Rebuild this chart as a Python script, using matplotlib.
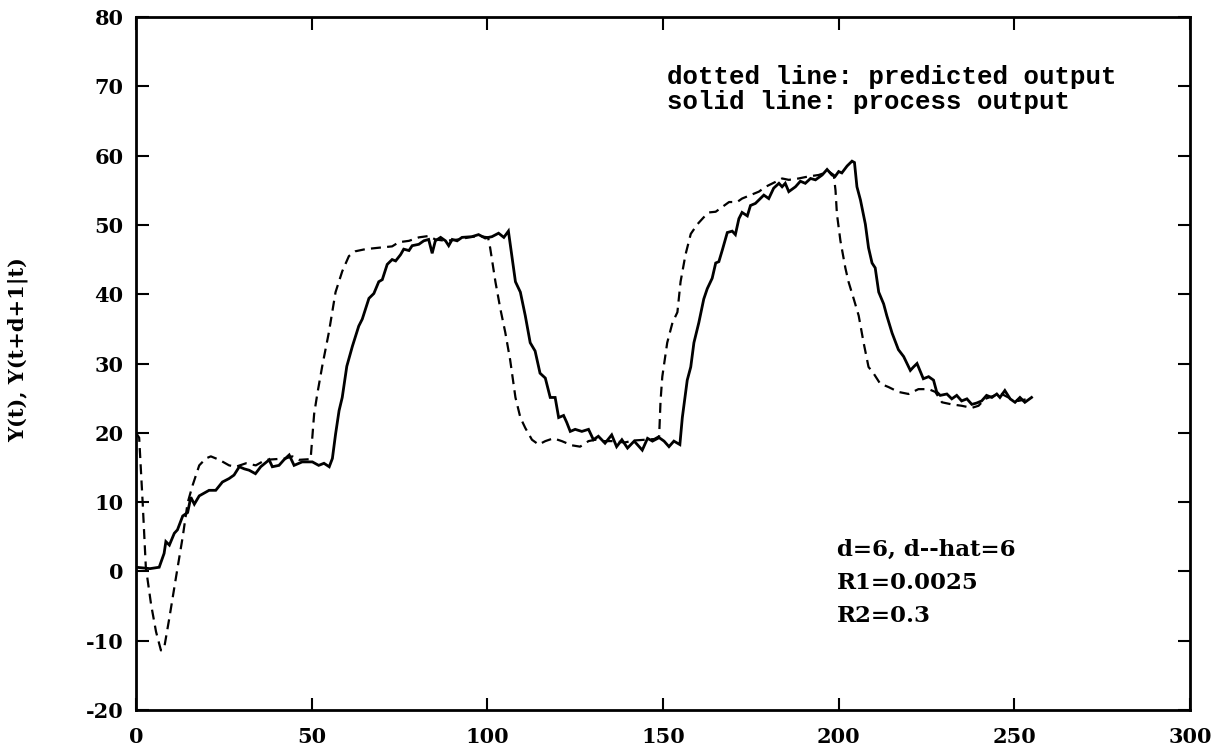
import matplotlib
matplotlib.use("Agg")
import matplotlib.pyplot as plt

# Process output y(t) (solid)
t_process = [
    0, 2, 4, 6.6, 8, 8.5, 9.5, 10.9, 11.8, 13.3, 14.7, 15.6, 16.6, 18, 20.8, 22.7,
    24.6, 26.5, 27.9, 29.4, 30.8, 32.2, 34, 35.5, 37.9, 38.8, 40.7, 42.1, 43.6, 45,
    47.3, 50.2, 52, 53.5, 55, 55.9, 56.8, 57.8, 58.7, 60, 61.6, 63.4, 64.4, 66.3,
    67.7, 69.1, 70.1, 71.5, 72.9, 73.9, 75.3, 76.2, 77.7, 78.6, 80.5, 81.9, 83.3,
    84.3, 85.2, 86.7, 88.1, 89, 90, 91.4, 92.8, 95.6, 97.5, 99.4, 101.3, 103.2,
    104.7, 106, 108, 109.4, 110.8, 112.2, 113.6, 115, 116.5, 117.9, 119.3, 120.3,
    121.7, 122.6, 123.6, 125, 126.9, 128.8, 130.2, 131.6, 133.5, 135.4, 136.8,
    138.3, 139.9, 141.8, 144.1, 145.6, 147, 148.9, 150.3, 151.7, 153.1, 154.8,
    155.5, 156.9, 157.9, 158.8, 160.2, 161.6, 162.6, 164, 165, 165.9, 166.9, 168.3,
    169.7, 170.6, 171.6, 172.5, 174, 174.9, 176.3, 177.3, 178.7, 180.1, 181.5, 183,
    183.9, 184.8, 185.8, 187.7, 189.1, 190.5, 192, 193.4, 195.3, 196.7, 198.1, 199,
    200, 200.9, 202.4, 203.8, 204.5, 205.2, 206.2, 207.6, 208.5, 209.5, 210.4,
    211.4, 212.8, 213.7, 215.2, 217, 218.5, 220.4, 221.3, 222.3, 223.7, 224.1,
    225.6, 227, 227.9, 228.9, 230.8, 232.2, 233.6, 235, 236.5, 237.9, 239.3, 240.7,
    242.1, 243.6, 245, 245.9, 247.3, 248.8, 250.2, 251.6, 253, 254.9,
]
y_process = [
    0.6, 0.5, 0.4, 0.6, 2.6, 4.3, 3.8, 5.5, 6.0, 8.0, 8.5, 10.7, 9.7, 10.9, 11.7, 11.7,
    12.9, 13.4, 13.9, 15.1, 14.8, 14.6, 14.1, 15.1, 16.1, 15.1, 15.3, 16.1, 16.8, 15.3,
    15.8, 15.8, 15.3, 15.6, 15.1, 16.3, 19.8, 23.2, 25.1, 29.6, 32.5, 35.4, 36.4, 39.4,
    40.1, 41.8, 42.1, 44.3, 45.0, 44.8, 45.7, 46.5, 46.3, 47.0, 47.2, 47.7, 47.9,
    45.9, 47.7, 48.2, 47.7, 47.0, 47.9, 47.7, 48.2, 48.3, 48.6, 48.1, 48.3, 48.8,
    48.2, 49.1, 41.8, 40.3, 36.9, 33.0, 31.8, 28.6, 27.9, 25.1, 25.1, 22.2,
    22.5, 21.5, 20.2, 20.5, 20.2, 20.5, 19.0, 19.5, 18.5, 19.7, 18.0,
    19.0, 17.8, 18.8, 17.5, 19.2, 18.8, 19.3, 18.8, 18.0, 18.8, 18.3,
    22.2, 27.6, 29.5, 33.0, 35.9, 39.3, 40.8, 42.3, 44.5, 44.7, 46.4, 48.9,
    49.1, 48.6, 50.9, 51.8, 51.3, 52.8, 53.1, 53.6, 54.3, 53.8, 55.3, 56.0,
    55.5, 56.0, 54.8, 55.5, 56.3, 56.0, 56.7, 56.5, 57.2, 58.0, 57.2, 57.0,
    57.7, 57.5, 58.5, 59.2, 59.0, 55.5, 53.6, 50.1, 46.7, 44.5, 43.8,
    40.3, 38.6, 36.9, 34.4, 32.0, 31.0, 29.0, 29.5, 30.0, 28.3, 27.8,
    28.1, 27.6, 25.9, 25.4, 25.6, 24.9, 25.4, 24.6, 24.9, 24.1, 24.3, 24.6,
    25.4, 25.1, 25.6, 25.1, 26.1, 24.9, 24.4, 25.1, 24.4, 25.1,
]

# Predicted output y(t+d+1|t) (dashed)
t_pred = [
    0, 0.9, 1.9, 2.8, 4.3, 5.7, 7.1, 8, 9.5, 11.4, 13.3, 14.7, 16.1, 18, 19.9, 21.3,
    23.7, 26.5, 28.4, 31.3, 34.1, 36.9, 39.8, 42.6, 44.5, 46.4, 49.7, 50.7, 51.6, 53,
    54.9, 56.8, 58.7, 60.6, 62.5, 65.3, 69, 72.9, 74.8, 77.7, 80.5, 83.3, 85.2, 88.1,
    91.9, 94.7, 97.5, 100.2, 100.8, 102.3, 103.7, 105.1, 106.5, 108, 109.4, 110.8,
    112.7, 114.6, 116.5, 118.8, 121.2, 124, 126.4, 128.8, 130.7, 133, 136, 139, 142,
    145, 147.5, 148.9, 149.3, 149.8, 151.2, 152.7, 154.1, 155, 156.4, 157.9, 159.8,
    161.6, 163.1, 165, 166.9, 168.8, 171.1, 172.5, 174.9, 177.3, 179.2, 182, 183.9,
    185.8, 188.6, 191.5, 194.3, 197.2, 198.6, 199.1, 199.5, 200.5, 201.9, 202.8,
    204.3, 205.7, 207.1, 208.5, 209.9, 211.8, 214.2, 217, 219.9, 222.7, 225.6,
    227.5, 229.4, 232.2, 235, 237.9, 239.8, 241.7, 244.5, 246.4, 248.3, 251.1, 254,
]
y_pred = [
    20.0, 19.3, 9.9, 0.6, -4.8, -8.7, -11.4, -11.1, -6.7, -0.8, 5.0, 9.9, 12.4, 15.3, 16.3, 16.6,
    16.1, 15.3, 15.1, 15.6, 15.3, 16.1, 16.2, 16.3, 16.6, 16.1, 16.2, 22.7, 25.6, 29.6,
    34.5, 40.3, 43.3, 45.5, 46.2, 46.5, 46.7, 46.9, 47.5, 47.7, 48.2, 48.4, 47.9, 47.7,
    47.9, 48.2, 48.4, 48.2, 46.7, 41.8, 37.9, 34.5, 30.5, 25.1, 22.2, 20.7,
    19.0, 18.3, 18.8, 19.2, 18.8, 18.2, 18.0, 18.8, 19.0, 18.8, 18.8, 18.6, 18.9,
    19.0, 19.1, 19.5, 24.6, 28.1, 33.0, 35.9, 37.4, 41.8, 45.7, 48.7, 50.1,
    51.1, 51.8, 51.9, 52.6, 53.3, 53.3, 53.8, 54.3, 54.8, 55.5, 56.2, 56.7,
    56.5, 56.7, 57.0, 57.2, 57.7, 57.2, 55.0, 51.6, 47.7, 43.8, 41.8,
    39.3, 36.9, 33.0, 29.5, 28.6, 27.1, 26.6, 25.9, 25.6, 26.3, 26.3,
    25.9, 24.4, 24.1, 23.9, 23.6, 23.9, 24.9, 25.4, 25.6, 25.1, 24.6, 24.9,
]

x_ticks = [0, 50, 100, 150, 200, 250, 300]
y_ticks = [-20, -10, 0, 10, 20, 30, 40, 50, 60, 70, 80]

legend_lines = ["dotted line: predicted output", "solid line: process output"]
param_lines = ["d=6, d--hat=6", "R1=0.0025", "R2=0.3"]
y_label = "Y(t), Y(t+d+1|t)"

fig = plt.figure(figsize=(12.3, 7.49), dpi=100)
ax = fig.add_axes([136 / 1230, 1 - 710 / 749, 1054 / 1230, 693 / 749])

ax.plot(t_process, y_process, color="black", lw=2.0, solid_joinstyle="miter")
ax.plot(t_pred, y_pred, color="black", lw=1.6, linestyle=(0, (4.5, 2.8)))

ax.set_xlim(0, 300)
ax.set_ylim(-20, 80)
ax.set_xticks(x_ticks)
ax.set_yticks(y_ticks)

tick_font = dict(family="DejaVu Serif", weight="bold", size=15)
ax.set_xticklabels([str(v) for v in x_ticks], **tick_font)
ax.set_yticklabels([str(v) for v in y_ticks], **tick_font)
ax.tick_params(axis="both", which="major", direction="in", length=9, width=1.5,
               top=True, right=True)
ax.tick_params(axis="x", pad=12)
ax.tick_params(axis="y", pad=9)
for side in ax.spines.values():
    side.set_linewidth(2.0)

ax.set_ylabel(y_label, family="DejaVu Serif", weight="bold", size=15)
ax.yaxis.set_label_coords(-0.102, 0.52)

for i, line in enumerate(legend_lines):
    ax.text(0.504, 0.913 - i * 0.035, line, transform=ax.transAxes,
            family="Liberation Mono", weight="bold", size=18.5,
            ha="left", va="center")

for i, line in enumerate(param_lines):
    ax.text(0.665, 0.231 - i * 0.048, line, transform=ax.transAxes,
            family="DejaVu Serif", weight="bold", size=16.5,
            ha="left", va="center")

fig.savefig("out.png", dpi=100)
